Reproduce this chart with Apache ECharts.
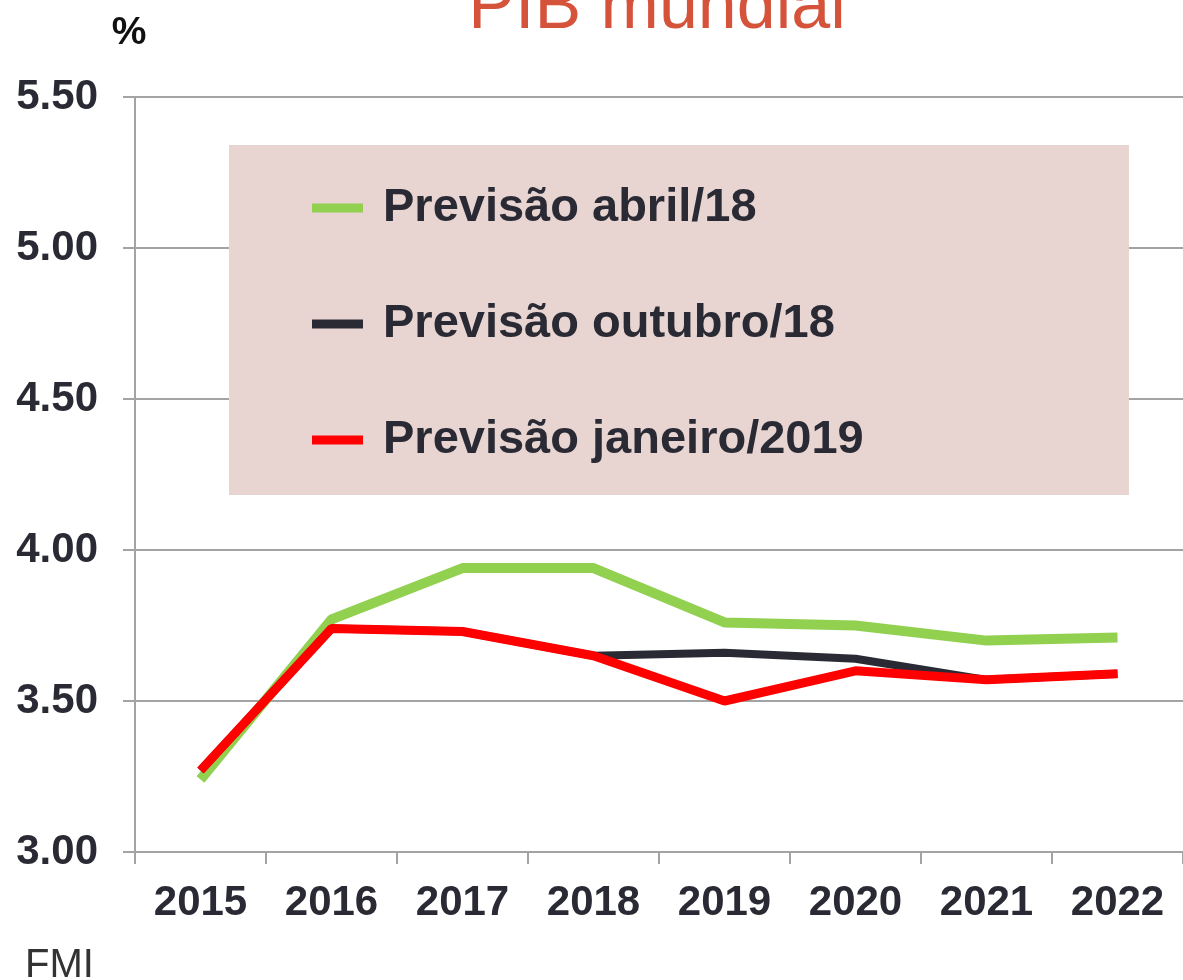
<!DOCTYPE html>
<html>
<head>
<meta charset="utf-8">
<script src="https://cdn.jsdelivr.net/npm/echarts@6/dist/echarts.min.js"></script>
<style>
  html, body { margin: 0; padding: 0; background: #fff; }
  #chart { width: 1183px; height: 980px; }
</style>
</head>
<body>
<div id="chart"></div>
<script>
const years = ["2015", "2016", "2017", "2018", "2019", "2020", "2021", "2022"];
const abril18 = [3.24, 3.77, 3.94, 3.94, 3.76, 3.75, 3.70, 3.71];
const outubro18 = [3.27, 3.74, 3.73, 3.65, 3.66, 3.64, 3.57, 3.59];
const janeiro19 = [3.27, 3.74, 3.73, 3.65, 3.50, 3.60, 3.57, 3.59];
const seriesNames = ["Previsão abril/18", "Previsão outubro/18", "Previsão janeiro/2019"];

const textColor = "#2a2a35";
const gridColor = "#a3a3a3";
const font = "Liberation Sans, Arial, sans-serif";

const chart = echarts.init(document.getElementById("chart"));

const option = {
  animation: false,
  title: [
    {
      text: "PIB mundial",
      left: 652,
      textAlign: "center",
      top: -31,
      textStyle: { color: "#d6533b", fontSize: 70, fontWeight: "normal", fontFamily: font },
    },
    {
      text: "%",
      left: 124,
      textAlign: "center",
      top: 9,
      textStyle: { color: "#111", fontSize: 39, fontWeight: "bold", fontFamily: font },
    },
    {
      text: "FMI",
      left: 20,
      top: 941,
      textStyle: { color: "#333", fontSize: 40, fontWeight: "normal", fontFamily: font },
    },
  ],
  graphic: [
    {
      type: "rect",
      z: 3,
      shape: { x: 229, y: 145, width: 900, height: 350 },
      style: { fill: "#e8d5d2" },
    },
  ],
  legend: {
    data: seriesNames,
    orient: "vertical",
    left: 307,
    top: 178,
    itemGap: 66,
    itemWidth: 51,
    itemHeight: 9,
    icon: "rect",
    z: 5,
    textStyle: {
      color: textColor,
      fontSize: 47,
      fontWeight: "bold",
      lineHeight: 50,
      padding: [0, 0, 0, 15],
      fontFamily: font,
    },
  },
  grid: { left: 135, top: 97, width: 1053, height: 755, containLabel: false },
  xAxis: {
    type: "category",
    data: years,
    boundaryGap: true,
    axisLine: { lineStyle: { color: gridColor, width: 2 } },
    axisTick: { show: true, length: 12, lineStyle: { color: gridColor, width: 2 } },
    axisLabel: {
      color: textColor,
      fontSize: 42,
      fontWeight: "bold",
      margin: 30,
      fontFamily: font,
    },
  },
  yAxis: {
    type: "value",
    min: 3,
    max: 5.5,
    interval: 0.5,
    axisLine: { show: true, lineStyle: { color: gridColor, width: 2 } },
    axisTick: { show: true, length: 12, lineStyle: { color: gridColor, width: 2 } },
    splitLine: { lineStyle: { color: gridColor, width: 2 } },
    axisLabel: {
      color: textColor,
      fontSize: 42,
      fontWeight: "bold",
      margin: 37,
      padding: [4, 0, 0, 0],
      fontFamily: font,
      formatter: (v) => v.toFixed(2),
    },
  },
  series: [
    {
      name: seriesNames[0],
      type: "line",
      data: abril18,
      color: "#92d050",
      symbol: "none",
      lineStyle: { width: 10, color: "#92d050" },
    },
    {
      name: seriesNames[1],
      type: "line",
      data: outubro18,
      color: "#2a2a35",
      symbol: "none",
      lineStyle: { width: 8, color: "#2a2a35" },
    },
    {
      name: seriesNames[2],
      type: "line",
      data: janeiro19,
      color: "#ff0000",
      symbol: "none",
      lineStyle: { width: 9, color: "#ff0000" },
    },
  ],
};

chart.setOption(option);
</script>
</body>
</html>
